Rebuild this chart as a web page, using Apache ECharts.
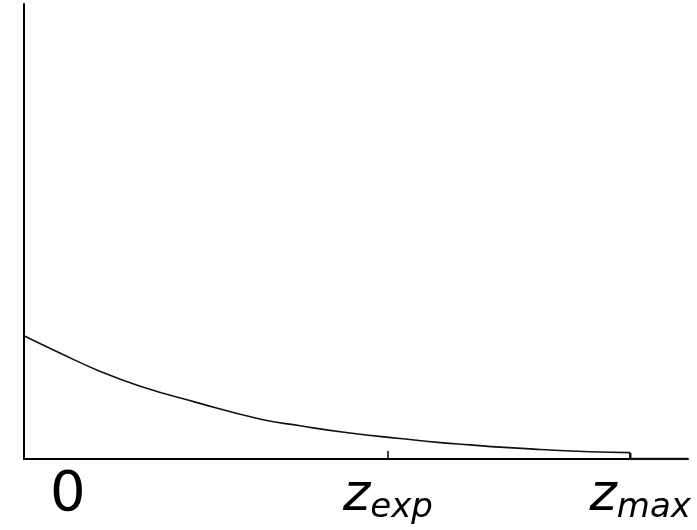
<!DOCTYPE html>
<html>
<head>
<meta charset="utf-8">
<script src="https://cdn.jsdelivr.net/npm/echarts@6/dist/echarts.min.js"></script>
<style>html,body{margin:0;padding:0;background:#fff}#c{width:697px;height:530px}</style>
</head>
<body>
<div id="c"></div>
<script>
// curve sample points (z position 0..100, density 0..100)
const curveZ = [0, 5.4, 11.4, 17.5, 25.8, 35.5, 41.6, 49.1, 56.6, 62.7, 67.2, 71.7, 77.7, 85.2, 91.3];
const curveP = [27.1, 23.3, 19.3, 16.0, 12.5, 8.8, 7.3, 5.7, 4.5, 3.6, 3.1, 2.6, 2.1, 1.6, 1.4];
const tailZ = [91.3, 91.3, 100];
const tailP = [1.4, 0, 0];
const tickValues = [54.8];
const labelValues = [6.6, 54.8, 92.8];
const labelTexts = ['{n|0}', '{z|z}{s|exp}', '{z|z}{s|max}'];

const chart = echarts.init(document.getElementById('c'));
chart.setOption({
  animation: false,
  grid: {left: 24, right: 9, top: 4, bottom: 71},
  xAxis: {
    type: 'value', min: 0, max: 100,
    splitLine: {show: false},
    axisLine: {show: true, lineStyle: {color: '#000', width: 2}},
    axisTick: {show: true, inside: true, length: 8, customValues: tickValues, lineStyle: {color: '#000', width: 1.5}},
    axisLabel: {
      show: true, margin: 8, customValues: labelValues,
      formatter: (v, i) => labelTexts[labelValues.indexOf(v)] || '',
      rich: {
        n: {fontSize: 56, fontFamily: 'DejaVu Sans', color: '#000'},
        z: {fontSize: 52, fontFamily: 'DejaVu Sans', fontStyle: 'italic', color: '#000'},
        s: {fontSize: 34, fontFamily: 'DejaVu Sans', fontStyle: 'italic', color: '#000', padding: [24, 0, 0, 0]}
      }
    }
  },
  yAxis: {
    type: 'value', min: 0, max: 100,
    splitLine: {show: false},
    axisLine: {show: true, lineStyle: {color: '#000', width: 2}},
    axisTick: {show: false},
    axisLabel: {show: false}
  },
  series: [
    {type: 'line', data: curveZ.map((z, i) => [z, curveP[i]]), smooth: 0.5, showSymbol: false,
     lineStyle: {color: '#111', width: 1.6}},
    {type: 'line', data: tailZ.map((z, i) => [z, tailP[i]]), showSymbol: false,
     lineStyle: {color: '#111', width: 2.5}}
  ]
});
</script>
</body>
</html>
